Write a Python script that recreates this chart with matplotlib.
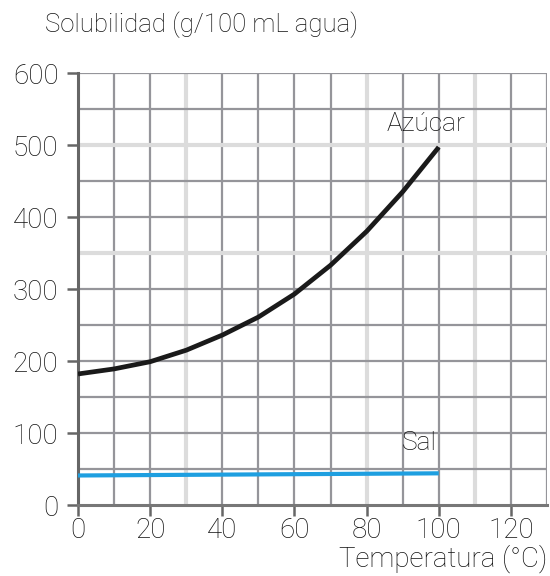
import matplotlib
matplotlib.use("Agg")
import matplotlib.pyplot as plt

# Data
temp_azucar = [0, 10, 20, 30, 40, 50, 60, 70, 80, 90, 100]
sol_azucar = [182, 189, 199, 215, 236, 261, 293, 333, 380, 435, 497]
temp_sal = [0, 100]
sol_sal = [41, 44]
x_ticks = [0, 20, 40, 60, 80, 100, 120]
y_ticks = [0, 100, 200, 300, 400, 500, 600]

plt.rcParams['font.family'] = ['Roboto', 'DejaVu Sans']
plt.rcParams['font.weight'] = 'light'

fig = plt.figure(figsize=(5.5, 5.76), dpi=100)
ax = fig.add_axes([78/550, 1-505/576, (547-78)/550, (505-73)/576])
ax.set_xlim(0, 130)
ax.set_ylim(0, 600)

dark = '#95959a'
light = '#dcdcdc'
light_x = [30, 80, 110]
light_y = [500, 350]
for xv in range(10, 131, 10):
    if xv in light_x:
        ax.axvline(xv, color=light, lw=3.0, zorder=1)
    else:
        ax.axvline(xv, color=dark, lw=1.6, zorder=1)
for yv in range(50, 601, 50):
    if yv in light_y:
        ax.axhline(yv, color=light, lw=3.0, zorder=1)
    else:
        ax.axhline(yv, color=dark, lw=1.6, zorder=1)

ax.plot(temp_azucar, sol_azucar, color='#1a1a1a', lw=3.4, zorder=3,
        solid_capstyle='butt', solid_joinstyle='round')
ax.plot(temp_sal, sol_sal, color='#1e9fe0', lw=3.0, zorder=3,
        solid_capstyle='butt')

for s in ['top', 'right']:
    ax.spines[s].set_visible(False)
ax.spines['left'].set_color('#666666')
ax.spines['left'].set_linewidth(2.2)
ax.spines['bottom'].set_color('#777777')
ax.spines['bottom'].set_linewidth(2.2)

ax.set_xticks(x_ticks)
ax.set_yticks(y_ticks)
ax.set_xticklabels([str(v) for v in x_ticks])
ax.set_yticklabels([str(v) for v in y_ticks])
ax.tick_params(axis='both', direction='out', length=8, width=1.8,
               color='#666666', labelsize=20, labelcolor='#111111')
ax.tick_params(axis='y', pad=6)
ax.tick_params(axis='x', pad=1)

ax.text(96.5, 529, 'Azúcar', fontsize=19, color='#111111', ha='center', va='center', zorder=4)
ax.text(94.6, 86, 'Sal', fontsize=19, color='#111111', ha='center', va='center', zorder=4)

fig.text(45/550, 1-25/576, 'Solubilidad (g/100 mL agua)', fontsize=18.5,
         color='#111111', ha='left', va='center')
fig.text(547/550, 1-559/576, 'Temperatura (°C)', fontsize=20,
         color='#111111', ha='right', va='center')

fig.savefig('out.png', dpi=100)
